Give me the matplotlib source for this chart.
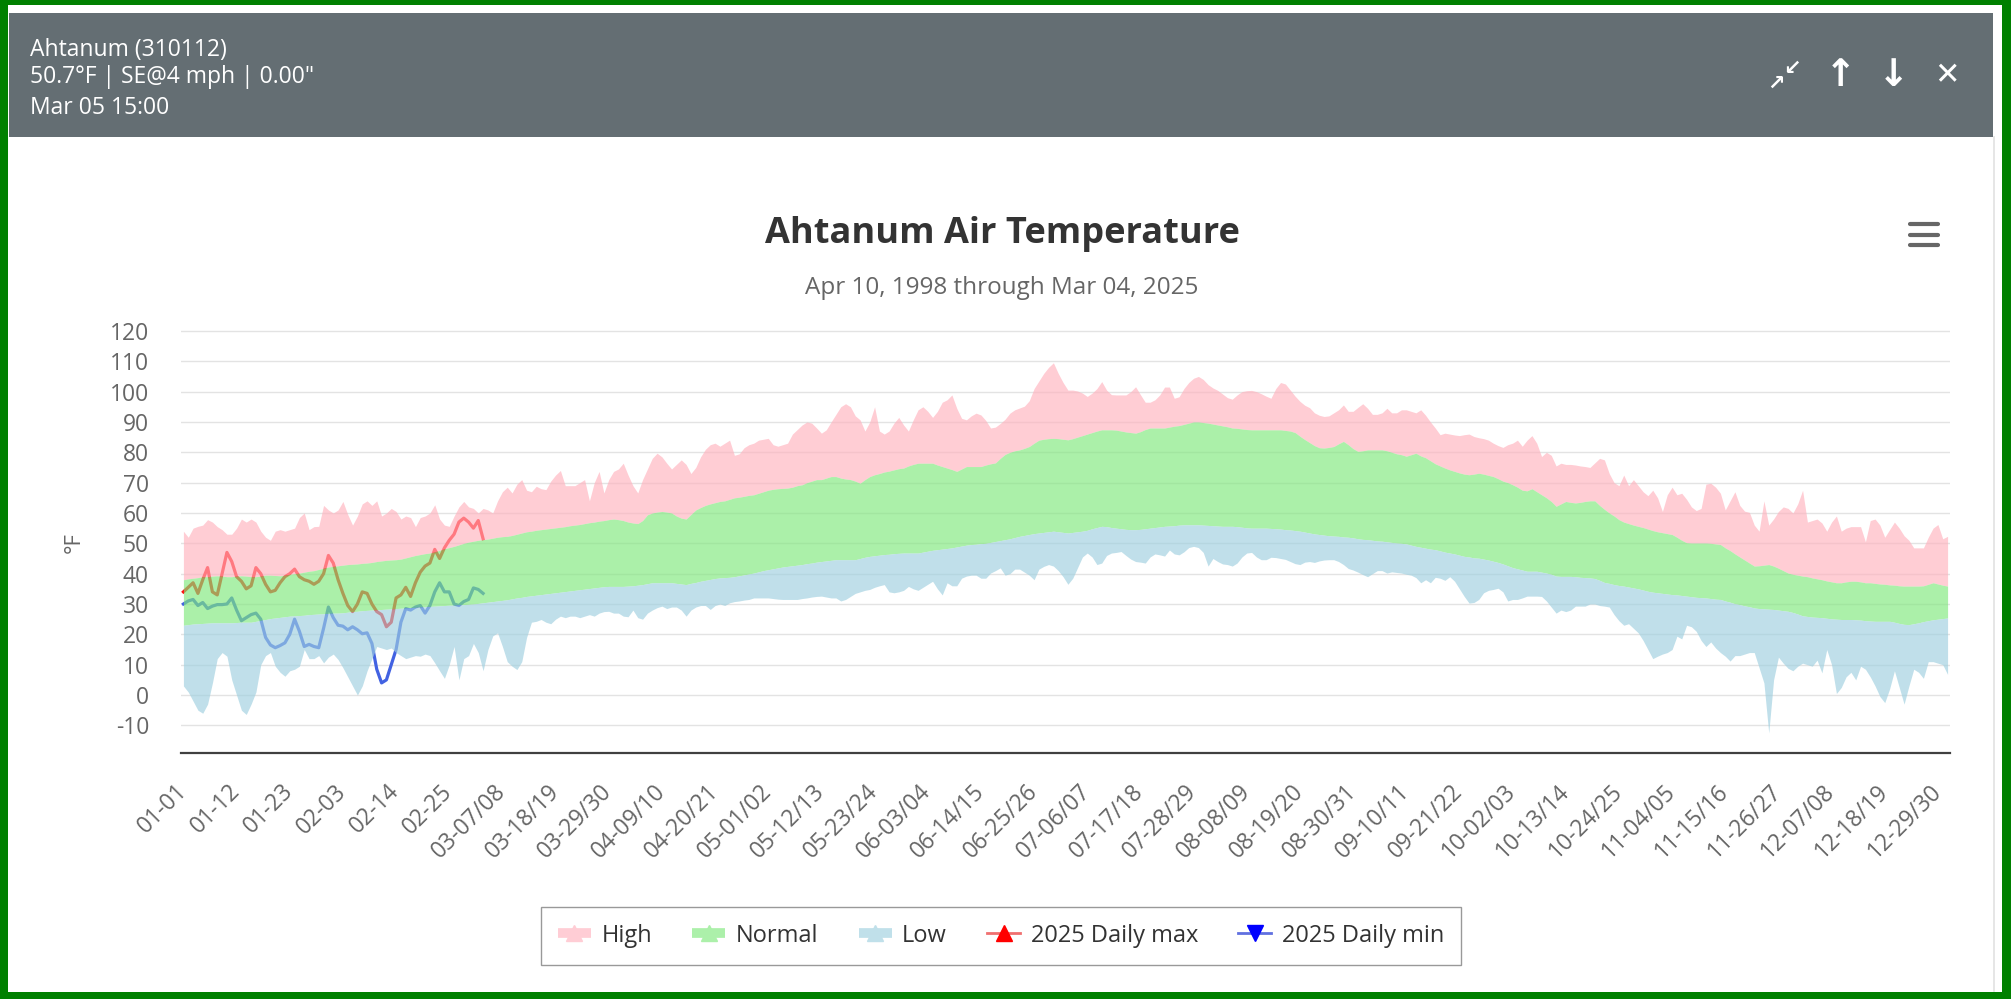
import numpy as np
import matplotlib
matplotlib.use("Agg")
import matplotlib.pyplot as plt
from matplotlib.lines import Line2D
from matplotlib.patches import Rectangle

W, H, DPI = 2011, 999, 100

TITLE = "Ahtanum Air Temperature"
SUBTITLE = "Apr 10, 1998 through Mar 04, 2025"
HEADER_LINES = ["Ahtanum (310112)", "50.7\u00b0F | SE@4 mph | 0.00\"", "Mar 05 15:00"]
Y_LABEL = "\u00b0F"
Y_TICKS = [-10, 0, 10, 20, 30, 40, 50, 60, 70, 80, 90, 100, 110, 120]
X_TICK_LABELS = ["01-01", "01-12", "01-23", "02-03", "02-14", "02-25", "03-07/08",
                 "03-18/19", "03-29/30", "04-09/10", "04-20/21", "05-01/02", "05-12/13",
                 "05-23/24", "06-03/04", "06-14/15", "06-25/26", "07-06/07", "07-17/18",
                 "07-28/29", "08-08/09", "08-19/20", "08-30/31", "09-10/11", "09-21/22",
                 "10-02/03", "10-13/14", "10-24/25", "11-04/05", "11-15/16", "11-26/27",
                 "12-07/08", "12-18/19", "12-29/30"]
LEGEND_LABELS = ["High", "Normal", "Low", "2025 Daily max", "2025 Daily min"]

# Record high (top of "High" band), one value per day of the year
REC_HIGH = [
    54, 52, 55, 55.6, 56, 57.8, 57, 55.5, 54.5, 53,
    53, 55, 58, 57, 58, 57, 54, 52, 51, 54,
    54.5, 54, 54.5, 55, 58.5, 60, 54.5, 55.5, 55.6, 62.5,
    61, 60, 61, 63.8, 59.5, 56, 59, 63, 64, 62.5,
    64, 59, 60, 61.5, 60.5, 58, 59, 58.5, 55.5, 58.5,
    59, 60, 62.7, 58, 56, 55.6, 59, 62, 63.8, 62,
    61.5, 60, 61.5, 61, 60, 64, 67, 68.5, 66.6, 69.5,
    71, 67.5, 67, 68.8, 68, 67.7, 70.5, 72.5, 74, 69,
    69, 69, 70, 71, 64, 70, 73.7, 66.6, 71, 73.7,
    74.5, 76.4, 72.5, 69, 66.6, 71, 74.5, 78, 79.7, 78.5,
    76.4, 74.5, 76, 77.5, 76, 73, 75, 78.5, 81, 82.5,
    83, 82, 83, 84, 79, 79.5, 81.5, 82.5, 83, 84,
    84.3, 84.6, 82.5, 82, 82.5, 83, 86, 87.5, 89, 90,
    89.6, 88, 86.3, 87.4, 90, 92.5, 95, 96, 95, 92,
    90.7, 87, 90, 95, 87, 86, 87, 89.6, 91.5, 89,
    87, 90.7, 94, 95, 93.5, 91.5, 93.5, 96.5, 97.3, 98.9,
    94.5, 91.2, 90.7, 92, 92.9, 92.3, 90.5, 88, 88.3, 89.5,
    90.9, 92.9, 94, 94.6, 95.2, 97, 101, 103.5, 106, 108,
    109.5, 106, 103, 100.5, 100.5, 100.2, 99.5, 98.4, 99.5, 101,
    103.3, 100.5, 99, 98.9, 98.9, 98.9, 100, 101.6, 99, 96.5,
    96.5, 97.3, 98.9, 101.5, 101.5, 97.8, 98.3, 101, 103, 104.4,
    105, 104, 102.3, 101.2, 100.4, 99.2, 98, 97.5, 98.9, 100,
    100.3, 100.4, 100, 99.3, 98.5, 97.8, 101, 103, 102.5, 100.5,
    98.5, 96.8, 95.5, 94.7, 93, 92.2, 91.8, 92, 93, 94,
    95.6, 93.5, 93.5, 94.8, 96, 94.5, 92.5, 92.5, 93, 94.5,
    93, 93, 94, 94, 93.5, 93, 94, 92.2, 90, 88,
    85.8, 86.3, 86, 85.7, 85.5, 85.8, 86, 85.2, 84.8, 84.5,
    84, 83, 82.2, 81.6, 82.5, 83, 84, 82, 84, 85.5,
    83, 78.6, 80, 79, 75.5, 76.4, 76, 76, 75.8, 75.5,
    75.3, 75, 76.5, 78, 77.5, 73, 70, 69, 72.5, 69,
    71, 69, 67, 65.7, 67.5, 65, 60.5, 66, 68.5, 66,
    66.5, 64.5, 62, 60.8, 61.5, 69.5, 69.8, 68.5, 66.5, 61,
    64, 67, 62.5, 60.6, 60.2, 56, 54, 64, 56, 58,
    60.5, 62, 61.5, 60, 63, 67.5, 57, 57.5, 58, 56.7,
    54, 57, 59, 54, 55, 55.5, 55.5, 55.5, 50.5, 57.5,
    58, 56, 52, 54.5, 57, 55, 52.5, 51, 48.5, 48.5,
    48.5, 52, 55, 56.2, 51.5, 52.3]

# Normal high (top of "Normal" band)
NORM_HIGH = [
    38, 38.3, 38.5, 38.7, 39, 39, 39.2, 39.3, 39.2, 39,
    39, 39.2, 39.3, 39.2, 39, 39, 39.2, 39.5, 39.5, 39.4,
    39.3, 39.5, 39.8, 40, 40.2, 40.5, 40.8, 41, 41.4, 41.8,
    42.2, 42.4, 42.6, 42.8, 43, 43.1, 43.2, 43.4, 43.5, 43.7,
    44, 44.2, 44.4, 44.5, 44.6, 44.8, 45.2, 45.6, 46, 46.3,
    46.6, 46.8, 47.2, 47.7, 48.2, 48.6, 49, 49.5, 50, 50.4,
    50.7, 51, 51.2, 51.4, 51.7, 52, 52.2, 52.3, 52.6, 53,
    53.4, 53.8, 54, 54.3, 54.5, 54.7, 54.9, 55.1, 55.3, 55.5,
    55.8, 56, 56.2, 56.5, 56.8, 57, 57.3, 57.5, 57.8, 58,
    57.8, 57.5, 57, 56.7, 56.5, 57.5, 59.4, 60, 60.3, 60.5,
    60.3, 60, 59, 58.3, 58, 59.5, 61, 61.8, 62.5, 63,
    63.4, 63.8, 64, 64.5, 65, 65.2, 65.5, 65.8, 66, 66.5,
    67, 67.5, 67.8, 68, 68.1, 68.2, 68.5, 69, 69.3, 70,
    70.5, 71, 71, 71.5, 72, 72, 71.5, 71.2, 71, 70.5,
    69.8, 71, 72, 72.6, 73, 73.5, 73.8, 74.2, 74.6, 74.8,
    75.5, 76, 76.4, 76.4, 76.4, 76.4, 75.8, 75.3, 74.8, 74.3,
    73.7, 74.5, 75.3, 75.3, 75.3, 75.3, 75.8, 76.2, 76.5, 78,
    79.3, 80, 80.5, 80.8, 81.3, 81.9, 83, 84, 84.3, 84.5,
    84.6, 84.5, 84.3, 84.1, 84.5, 85, 85.5, 86, 86.5, 87,
    87.4, 87.4, 87.4, 87.3, 87, 86.7, 86.5, 86.3, 86.8, 87.5,
    88, 88, 88, 88, 88.3, 88.6, 88.8, 89.2, 89.6, 90,
    90, 89.8, 89.6, 89.3, 89, 88.7, 88.4, 88, 87.9, 87.7,
    87.5, 87.4, 87.4, 87.4, 87.4, 87.4, 87.4, 87.4, 87.2, 87,
    86.5, 85.3, 84.2, 83.2, 82.2, 81.5, 81.4, 81.6, 81.9, 82.8,
    83.6, 82.5, 81.2, 80.3, 80.5, 80.8, 80.8, 80.8, 80.8, 80.5,
    80, 79.5, 79.2, 78.7, 79.2, 79.7, 78.8, 78.2, 77.2, 76.2,
    75.5, 74.8, 74.2, 73.7, 73.2, 72.8, 72.6, 72.8, 73.1, 72.8,
    72.4, 72, 71.3, 70.5, 70, 69.3, 68.5, 67.5, 67.3, 68,
    67, 66, 65, 63.8, 62.2, 63, 63.8, 63.5, 63.3, 63.5,
    63.8, 64, 64, 62.5, 61.2, 60, 59, 57.8, 57, 56.5,
    56, 55.6, 55.2, 54.7, 54.2, 53.8, 53.5, 53.2, 52.9, 52,
    51, 50.2, 50.1, 50.1, 50.1, 50.1, 50, 49.8, 49.6, 48.5,
    47.6, 46.5, 45.5, 44.5, 43.5, 42.5, 42.6, 42.8, 43, 42.5,
    41.8, 41, 40.2, 39.8, 39.5, 39.2, 39, 38.6, 38.3, 38,
    37.6, 37.3, 37, 37, 37.3, 37.5, 37.5, 37.3, 37, 37,
    36.8, 36.6, 36.5, 36.3, 36.2, 36, 35.9, 35.9, 35.9, 35.9,
    36, 36.5, 37, 36.6, 36.2, 35.9]

# Normal low (bottom of "Normal" band)
NORM_LOW = [
    23, 23.2, 23.4, 23.5, 23.6, 23.7, 23.8, 23.8, 23.8, 23.8,
    23.8, 23.9, 24, 24, 24, 24.3, 24.6, 24.9, 25.2, 25.4,
    25.6, 25.8, 26, 26.1, 26.2, 26.3, 26.5, 26.6, 26.7, 26.8,
    26.9, 27, 27, 27.1, 27.3, 27.5, 27.6, 27.8, 27.9, 28,
    28.1, 28.2, 28.3, 28.4, 28.5, 28.6, 28.7, 28.8, 28.9, 29,
    29.1, 29.2, 29.3, 29.4, 29.5, 29.6, 29.6, 29.7, 29.8, 29.9,
    30, 30.2, 30.4, 30.6, 30.8, 31, 31.2, 31.4, 31.7, 32,
    32.2, 32.5, 32.7, 32.9, 33.1, 33.3, 33.5, 33.7, 33.9, 34.1,
    34.3, 34.5, 34.7, 34.9, 35.1, 35.3, 35.5, 35.7, 35.8, 35.8,
    35.8, 35.8, 35.9, 36, 36.2, 36.4, 36.7, 37, 37, 37,
    37, 37, 36.8, 36.6, 36.4, 36.8, 37.1, 37.5, 37.8, 38.1,
    38.4, 38.6, 38.7, 38.8, 39, 39.3, 39.6, 39.9, 40.2, 40.6,
    41, 41.3, 41.6, 41.9, 42.2, 42.4, 42.6, 42.8, 43, 43.3,
    43.5, 43.8, 44, 44.2, 44.4, 44.6, 44.6, 44.6, 44.6, 44.6,
    45, 45.4, 45.7, 45.9, 46.1, 46.3, 46.4, 46.6, 46.7, 46.8,
    46.8, 46.8, 46.8, 47.1, 47.4, 47.7, 47.9, 48.1, 48.3, 48.5,
    48.8, 49.1, 49.4, 49.6, 49.7, 49.9, 50, 50.3, 50.6, 50.9,
    51.2, 51.5, 51.9, 52.3, 52.6, 52.9, 53.2, 53.4, 53.6, 53.8,
    54, 53.8, 53.6, 53.4, 53.6, 53.8, 54, 54.3, 54.8, 55.2,
    55.6, 55.5, 55.2, 55, 54.8, 54.6, 54.5, 54.5, 54.6, 54.8,
    55, 55.2, 55.4, 55.6, 55.7, 55.8, 56, 56.1, 56.1, 56.1,
    56.1, 56, 55.9, 55.8, 55.7, 55.6, 55.6, 55.6, 55.5, 55.3,
    55.1, 55, 55, 55, 55, 54.9, 54.8, 54.7, 54.5, 54.4,
    54.2, 54, 53.7, 53.4, 53.1, 52.9, 52.7, 52.5, 52.4, 52.3,
    52.1, 52, 51.8, 51.5, 51.3, 51.2, 51, 50.8, 50.7, 50.5,
    50.3, 50.1, 50, 49.8, 49.4, 49, 48.7, 48.4, 48.1, 47.9,
    47.5, 47.1, 46.8, 46.5, 46.1, 45.7, 45.5, 45.2, 45.1, 44.8,
    44.5, 44.1, 43.7, 43.2, 42.6, 42, 41.6, 41.2, 40.8, 40.8,
    40.8, 40.5, 40.2, 39.8, 39.2, 39.1, 39.1, 39.1, 39, 38.8,
    38.7, 38.6, 38.4, 37.8, 37.1, 36.8, 36.4, 36.1, 35.9, 35.6,
    35.3, 35, 34.6, 34.2, 33.9, 33.7, 33.5, 33.3, 33.1, 33,
    32.8, 32.6, 32.4, 32.2, 32.1, 32, 31.8, 31.6, 31.5, 31,
    30.6, 30.1, 29.8, 29.4, 29.1, 28.7, 28.5, 28.4, 28.3, 28.2,
    28, 27.8, 27.6, 27.2, 26.7, 26.1, 25.9, 25.7, 25.6, 25.5,
    25.3, 25.1, 25, 24.9, 24.9, 24.9, 24.8, 24.7, 24.5, 24.4,
    24.3, 24.3, 24.3, 24.3, 24, 23.6, 23.3, 23.2, 23.5, 23.8,
    24.2, 24.5, 24.8, 25, 25.2, 25.4]

# Record low (bottom of "Low" band)
REC_LOW = [
    3, 1, -2, -5, -6, -3, 4, 12, 14, 12.8,
    5, 0, -5, -6.4, -3, 1, 10, 13, 14, 9.5,
    7.5, 6.2, 8, 8.5, 9.5, 15, 12, 12, 13, 10.6,
    12.5, 13.5, 11.7, 9, 6, 3, 0, 3, 8, 12,
    16, 15.5, 15, 15.5, 14, 13, 12, 12.5, 13, 12.8,
    13.5, 13, 10.6, 8, 5.5, 10, 16, 5, 12, 13,
    17, 14, 8, 15, 19.5, 20.5, 16, 11, 9.5, 8.4,
    11, 19, 24, 24.3, 24.9, 24, 23.5, 25, 26, 25.5,
    26, 26, 25.5, 26, 26.5, 26, 27, 27.5, 27.6, 27,
    27, 26, 25.8, 28, 25.5, 25, 27, 28, 28.8, 29.3,
    28.5, 29, 29, 28, 26, 28, 29, 29.5, 29.5, 28.2,
    29.5, 30, 29.5, 30.4, 30.8, 31, 31.3, 31.5, 32, 32,
    32, 32, 31.8, 31.6, 31.5, 31.5, 31.5, 31.5, 31.8, 32,
    32.3, 32.5, 32.6, 32.3, 32, 32, 31, 31.5, 32.5, 33.5,
    34, 34.5, 34.8, 35.5, 36, 36.4, 34, 33.7, 34, 34.5,
    35.8, 35, 34.5, 35.5, 36.5, 37.5, 35, 33, 37, 36,
    36, 38.5, 39.2, 39.5, 39.5, 38.5, 38.5, 40.2, 41, 41.9,
    39.5, 40, 41.5, 41.5, 40.5, 39.5, 38, 41.5, 42.4, 43,
    42.5, 41, 39, 36.5, 38.5, 42, 45.5, 46.8, 45.5, 43,
    43.5, 46, 46.8, 47, 47.3, 46, 44.8, 44, 43.8, 43.5,
    45.5, 46.5, 46.2, 45.8, 47.8, 46.5, 46.2, 47.2, 48.6, 49,
    48.6, 47, 42.5, 45, 44, 43.2, 43, 42.5, 43.5, 45.5,
    46.8, 47, 45.5, 44.6, 44.6, 45.4, 45.3, 45, 44.7, 44,
    43.3, 43, 43.8, 44, 43.7, 44.2, 44.5, 44.6, 44.6, 44,
    43, 41.7, 41.2, 40.5, 39.7, 39, 40, 41, 41, 40.2,
    40.6, 40.4, 40.2, 39.8, 39.5, 38.7, 37, 38, 37, 38.8,
    38.5, 37.8, 39, 37.5, 35, 32.5, 30.3, 30.5, 31.5, 33.7,
    34.5, 34.8, 35.2, 34, 31, 31.5, 31.5, 32, 32.6, 32.6,
    32.6, 32.5, 31, 29, 27, 28, 27.5, 28, 29.3, 29.3,
    29.3, 30, 30, 29.5, 29.3, 29, 26.5, 24.5, 23, 23.5,
    22, 20.5, 18, 15, 12, 12.8, 13.5, 14, 15, 19.4,
    18.5, 23, 22.5, 21, 18, 16, 17.5, 15.5, 14, 12.8,
    11.2, 13, 13, 13.5, 14, 14, 9, 4, -12.5, 5,
    12.5, 10.5, 8.8, 8, 9.5, 10.5, 10, 9.5, 11.5, 7.3,
    15, 10, 0.5, 2.5, 6, 7.5, 5, 9.5, 8.5, 6,
    3, -0.5, -2.5, 2, 8, 2.5, -3, 3, 8.5, 7.5,
    5.5, 11, 11, 10.5, 10, 6.8]

# 2025 daily max / min (Jan 1 .. Mar 4)
MAX_2025 = [
    34, 35.5, 37, 33.5, 38, 42, 34, 33, 40, 47,
    44, 39, 37.5, 35, 36, 42, 40, 36.5, 34, 34.5,
    37, 39, 40, 41.5, 39, 38, 37.5, 36.5, 37.5, 40,
    46, 43.5, 38, 33.5, 29.5, 27.5, 30, 34, 33.5, 30,
    27.5, 26.5, 22.5, 24, 32, 33, 35.5, 32.5, 37, 40.5,
    42.5, 43.5, 48, 45, 48.5, 51, 53, 57, 58.3, 57,
    55, 57.5, 51.5]
MIN_2025 = [
    30, 31, 31.5, 29.5, 30.5, 28.5, 29.3, 29.8, 29.8, 30,
    32, 28, 24.5, 25.5, 26.5, 27, 25, 19, 16.5, 15.6,
    16.3, 17.2, 20, 25, 21, 16, 16.7, 16, 15.6, 22,
    29, 25.5, 23, 22.7, 21.5, 22.5, 21.5, 20.2, 20.5, 17,
    8.5, 4, 5, 10, 15, 24, 28.5, 28, 29, 29.5,
    27, 29.5, 34, 37, 34, 34, 30, 29.5, 30.8, 31.5,
    35.3, 34.8, 33.5]

# ---------------------------------------------------------------- styling
plt.rcParams['font.family'] = ['Open Sans', 'DejaVu Sans']

PINK = '#ffb2be'
GREEN = '#7fe87c'
LBLUE = '#9ecfdf'
FILL_ALPHA = 0.65
PINK_SOLID = '#ffcdd5'
GREEN_SOLID = '#acf0aa'
LBLUE_SOLID = '#c0e0ea'


def fx(px):
    return px / W


def fy(py):
    return 1 - py / H


def prect(fig, x0, y0, x1, y1, color, z=0):
    fig.add_artist(Rectangle((fx(x0), fy(y1)), (x1 - x0) / W, (y1 - y0) / H,
                             transform=fig.transFigure, facecolor=color,
                             edgecolor='none', zorder=z))


fig = plt.figure(figsize=(W / DPI, H / DPI), dpi=DPI)
fig.patch.set_facecolor('white')

# page frame and header bar
prect(fig, 0, 0, W, 5, '#008000')
prect(fig, 0, 0, 8, H, '#008000')
prect(fig, W - 9, 0, W, H, '#008000')
prect(fig, 0, H - 7, W, H, '#008000')
prect(fig, 9, 13, 1993, 137, '#646e73')
fig.add_artist(Line2D([fx(1994), fx(1994)], [fy(137), fy(H - 8)], transform=fig.transFigure,
                      color='#e2e2e2', lw=1.2))

for txt, yy in zip(HEADER_LINES, [50, 77, 108]):
    fig.text(fx(30), fy(yy), txt, color='white', fontsize=16.5, ha='left', va='center')

# header icons
icon_kw = dict(color='white', ha='center', va='center', family=['DejaVu Sans'],
               fontweight='bold')
fig.text(fx(1776), fy(84), '\u2197', fontsize=15, **icon_kw)
fig.text(fx(1792), fy(68), '\u2199', fontsize=15, **icon_kw)
fig.text(fx(1840), fy(76), '\u2191', fontsize=27, **icon_kw)
fig.text(fx(1893), fy(76), '\u2193', fontsize=27, **icon_kw)
fig.text(fx(1947), fy(76), '\u2715', fontsize=22, **icon_kw)

# titles
fig.text(fx(1002), fy(234), TITLE, ha='center', va='center', fontsize=26,
         fontweight='bold', color='#333333')
fig.text(fx(1002), fy(288), SUBTITLE, ha='center', va='center', fontsize=17.5,
         color='#666666')

# hamburger menu
for yy in (224, 234.5, 245):
    fig.add_artist(Line2D([fx(1910), fx(1938)], [fy(yy), fy(yy)], transform=fig.transFigure,
                          color='#666666', lw=3.0, solid_capstyle='round'))

# ---------------------------------------------------------------- plot area
PLOT_L, PLOT_R, PLOT_T, PLOT_B = 181, 1950, 330, 753.3
ax = fig.add_axes([fx(PLOT_L), fy(PLOT_B), (PLOT_R - PLOT_L) / W, (PLOT_B - PLOT_T) / H])
ax.set_facecolor('none')

days = np.arange(len(REC_HIGH))
rh = np.array(REC_HIGH)
nh = np.array(NORM_HIGH)
nl = np.array(NORM_LOW)
rl = np.array(REC_LOW)

ax.set_xlim(-0.5, len(days) - 0.5)
ax.set_ylim(-19.2, 120.3)

# 2025 lines drawn beneath the semi-transparent bands
d25 = np.arange(len(MAX_2025))
ax.plot(d25, MAX_2025, color='#ff1010', lw=2.3, zorder=2)
ax.plot(d25, MIN_2025, color='#4262e2', lw=2.3, zorder=2)

ax.fill_between(days, nh, rh, color=PINK, alpha=FILL_ALPHA, lw=0, zorder=3)
ax.fill_between(days, nl, nh, color=GREEN, alpha=FILL_ALPHA, lw=0, zorder=3)
ax.fill_between(days, rl, nl, color=LBLUE, alpha=FILL_ALPHA, lw=0, zorder=3)

ax.set_yticks(Y_TICKS)
ax.set_yticklabels([str(v) for v in Y_TICKS])
ax.yaxis.grid(True, color='#e3e3e3', lw=1.0, zorder=0)
ax.set_axisbelow(True)
ax.tick_params(axis='y', length=0, pad=23, labelsize=16.5, labelcolor='#666666')

ax.set_xticks(list(range(0, 11 * len(X_TICK_LABELS), 11)))
ax.set_xticklabels(X_TICK_LABELS, rotation=45, ha='right', va='center',
                   rotation_mode='anchor')
ax.tick_params(axis='x', length=0, pad=25, labelsize=16.5, labelcolor='#666666')

for s in ('left', 'right', 'top'):
    ax.spines[s].set_visible(False)
ax.spines['bottom'].set_color('#404040')
ax.spines['bottom'].set_linewidth(1.6)

fig.text(fx(74), fy(543), Y_LABEL, rotation=90, ha='center', va='center',
         fontsize=16, color='#666666')

# ---------------------------------------------------------------- legend
h_high = Line2D([], [], color=PINK_SOLID, lw=7, solid_capstyle='butt', marker='^',
                markersize=12, markerfacecolor=PINK_SOLID, markeredgecolor=PINK_SOLID)
h_norm = Line2D([], [], color=GREEN_SOLID, lw=7, solid_capstyle='butt', marker='^',
                markersize=12, markerfacecolor=GREEN_SOLID, markeredgecolor=GREEN_SOLID)
h_low = Line2D([], [], color=LBLUE_SOLID, lw=7, solid_capstyle='butt', marker='^',
               markersize=12, markerfacecolor=LBLUE_SOLID, markeredgecolor=LBLUE_SOLID)
h_max = Line2D([], [], color='#f07070', lw=2, marker='^', markersize=11,
               markerfacecolor='red', markeredgecolor='red')
h_min = Line2D([], [], color='#6070e0', lw=2, marker='v', markersize=11,
               markerfacecolor='blue', markeredgecolor='blue')

leg = fig.legend([h_high, h_norm, h_low, h_max, h_min], LEGEND_LABELS,
                 loc='center', bbox_to_anchor=(fx(1001), fy(935.5)), ncol=5,
                 fontsize=17, handlelength=1.4, handletextpad=0.45,
                 columnspacing=1.7, borderpad=0.72, fancybox=False,
                 edgecolor='#999999', framealpha=1)
leg.get_frame().set_linewidth(1.0)
for t in leg.get_texts():
    t.set_color('#333333')

fig.savefig('out.png', dpi=DPI, facecolor='white')
